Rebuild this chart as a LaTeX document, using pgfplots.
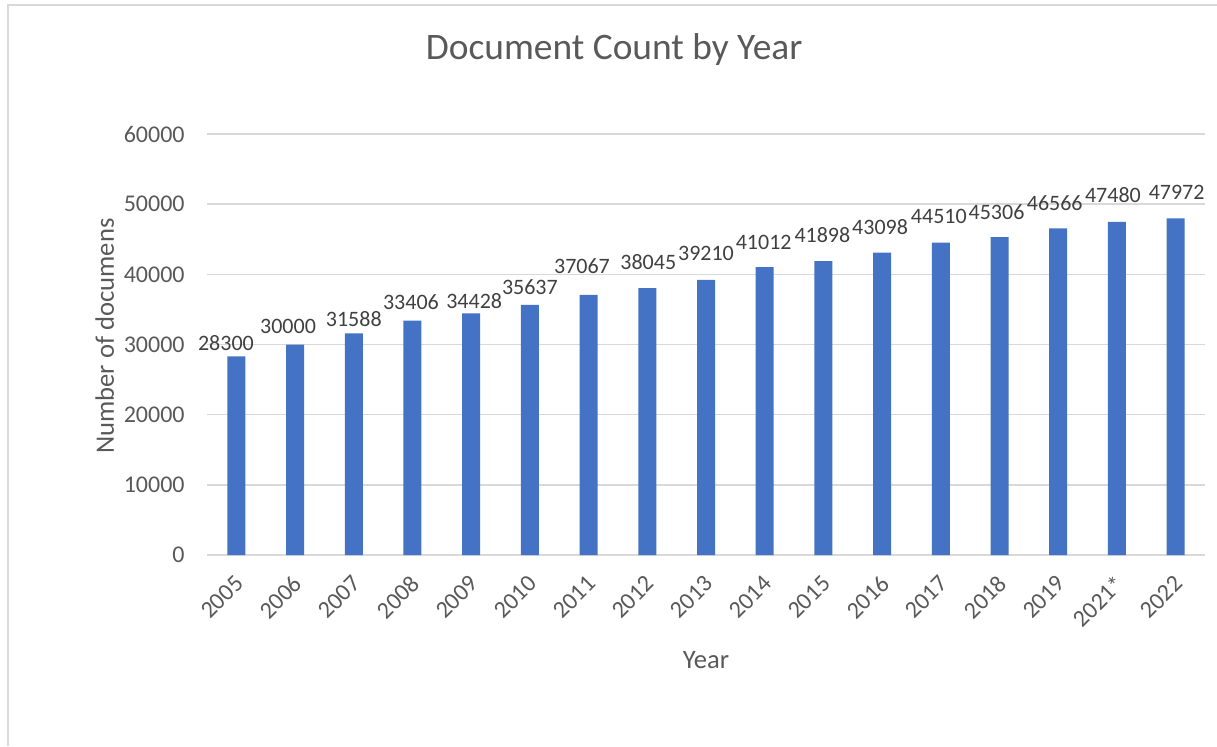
\documentclass[border=0pt]{standalone}
\usepackage{fontspec}
\setmainfont{Carlito}
\usepackage{pgfplots}
\usepackage{pgfplotstable}
\pgfplotsset{compat=1.18}

\definecolor{barblue}{HTML}{4472C4}
\definecolor{gridgray}{HTML}{D9D9D9}
\definecolor{ticktext}{HTML}{595959}
\definecolor{labeltext}{HTML}{404040}

% idx, count, label x offset and label gap above the bar (reference pixels)
\pgfplotstableread{
idx count dx gap
0  28300 -10.4  5.4
1  30000  -7.0 10.2
2  31588   0.0  6.1
3  33406  -1.5 10.6
4  34428   3.0  4.1
5  35637   0.0 10.0
6  37067  -6.6 20.9
7  38045   1.0 18.1
8  39210   0.0 19.2
9  41012  -1.0 17.2
10 41898  -1.0 18.3
11 43098  -2.0 17.6
12 44510  -2.0 18.4
13 45306  -3.0 17.1
14 46566  -3.5 17.6
15 47480  -4.0 18.5
16 47972   1.0 18.4
}\doccounts

\begin{document}
\begin{tikzpicture}
  % page size and the chart-area frame (left and top edges only)
  \path[use as bounding box] (0,0) rectangle (608.5pt,373pt);
  \draw[gridgray, line width=1pt] (4pt,0) -- (4pt,370.25pt) -- (608.5pt,370.25pt);

  \begin{axis}[
      at={(103.5pt,95.5pt)}, anchor=south west,
      scale only axis, width=499pt, height=210.5pt,
      ybar, bar width=9pt, bar shift=0pt,
      xmin=-0.5, xmax=16.5, ymin=0, ymax=60000,
      enlargelimits=false,
      xtick=data,
      xticklabels={2005,2006,2007,2008,2009,2010,2011,2012,2013,2014,2015,2016,2017,2018,2019,2021*,2022},
      ytick={0,10000,...,60000},
      scaled y ticks=false,
      /pgf/number format/1000 sep={},
      /pgf/number format/assume math mode=true,
      axis x line*=bottom, axis y line*=left,
      x axis line style={gridgray, line width=0.75pt},
      y axis line style={draw=none},
      xtick style={draw=none}, ytick style={draw=none},
      ymajorgrids, grid style={gridgray, line width=0.75pt},
      tick label style={font=\fontsize{12}{14}\selectfont, text=ticktext},
      yticklabel style={anchor=east, inner sep=0pt, xshift=-11pt},
      xticklabel style={rotate=45, anchor=east, inner sep=0pt, xshift=-4.6pt, yshift=-6.8pt},
      title={Document Count by Year},
      title style={at={(axis description cs:0.408,1.1496)}, anchor=base,
                   font=\fontsize{18.7}{22}\selectfont, text=ticktext},
      xlabel={Year},
      xlabel style={at={(axis description cs:0.5,-0.2684)}, anchor=base,
                    font=\fontsize{13.3}{16}\selectfont, text=ticktext},
      ylabel={Number of documens},
      ylabel style={at={(axis description cs:-0.0932,0.52)}, anchor=base,
                    font=\fontsize{13.3}{16}\selectfont, text=ticktext},
      visualization depends on={\thisrow{dx} \as \labdx},
      visualization depends on={\thisrow{gap} \as \labgap},
      nodes near coords,
      nodes near coords style={anchor=south, inner sep=0pt,
                               xshift=0.5pt*\labdx, yshift=0.5pt*\labgap,
                               font=\fontsize{11}{13}\selectfont, text=labeltext},
    ]
    \addplot[fill=barblue, draw=none] table[x=idx, y=count] {\doccounts};
  \end{axis}
\end{tikzpicture}
\end{document}
